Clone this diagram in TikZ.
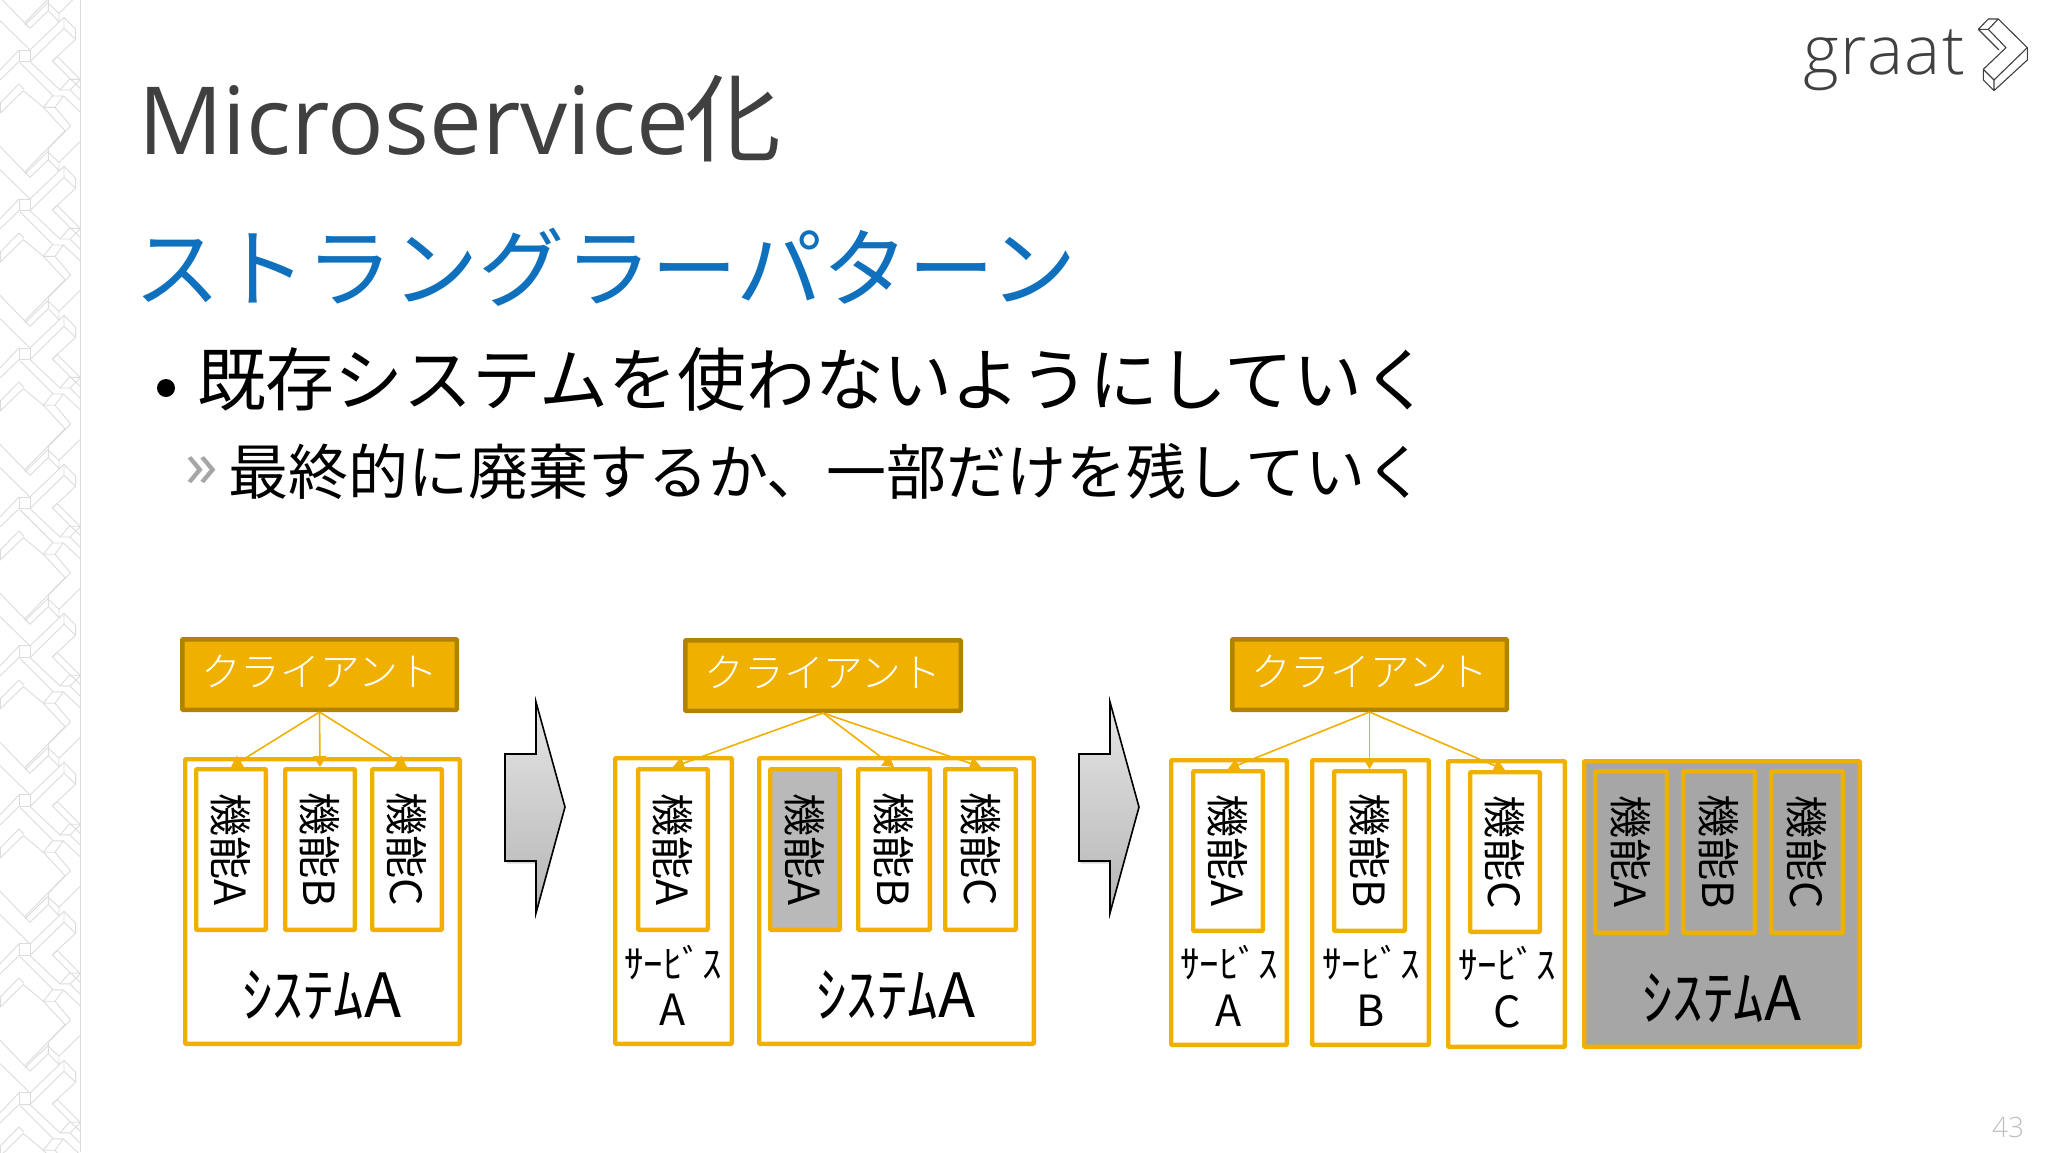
\documentclass[tikz,border=0pt]{standalone}
\usepackage{graphicx}
\usepackage{fontspec}
\setmainfont{Open Sans}
\newfontfamily\jp{Noto Sans CJK JP}
\newfontfamily\jpl{Noto Sans CJK JP}[UprightFont=* Light]
\newfontfamily\lat{Open Sans}[UprightFont=* Light]
\newfontfamily\latr{Open Sans}
\usetikzlibrary{arrows.meta}
\definecolor{amber}{HTML}{F0B000}
\definecolor{amberdk}{HTML}{B28300}
\definecolor{titlegray}{HTML}{404040}
\definecolor{subblue}{HTML}{0F70BD}
\definecolor{patgray}{HTML}{DCDCDC}
\definecolor{graya}{HTML}{B9B9B9}
\definecolor{grayb}{HTML}{A6A6A6}
\newcommand\fs[1]{\fontsize{#1pt}{#1pt}\selectfont}
\newcommand\rtxt[1]{\rotatebox{-90}{\raisebox{2.5pt}{\jp\fs{43}#1}}}
\tikzset{
  x=1pt,y=-1pt,
  every node/.style={inner sep=0pt,outer sep=0pt},
  amberbox/.style={draw=amber,line width=4.3pt,fill=white,rounded corners=0.8pt},
  funcbox/.style={amberbox,text=black},
  graybox/.style={amberbox,fill=graya,text=black},
  grayfunc/.style={amberbox,fill=grayb,text=black},
  sysgray/.style={amberbox,fill=grayb},
  clientbox/.style={draw=amberdk,line width=4.5pt,fill=amber,text=white,rounded corners=0.8pt},
  link/.style={draw=amber,line width=1.6pt,-{Stealth[length=11pt,width=13pt,inset=0pt]}},
  sysl/.style={text=black,font={\jp\fs{61}}},
  svcl/.style={text=black,font={\jp\fs{39}},align=center},
  svcm/.style={text=black,font={\jp\fs{43}},align=center},
  bigarrow/.style={draw=black,line width=1.6pt,top color=black!10,bottom color=black!29},
  arrowshade/.style={fill=black,opacity=.14,draw=none},
  pat/.style={draw=patgray,line width=0.9pt,line join=round},
  logol/.style={draw=titlegray,line width=1.1pt,line join=round},
}
\newcommand\bx[7]{\node[#2,minimum width={#5-#3-4.3},minimum height={#6-#4-4.3}] (#1) at ({(#3+#5)/2},{(#4+#6)/2}) {#7};}
\newcommand\clientb[5]{\node[clientbox,minimum width={#4-#2-4.5},minimum height={#5-#3-4.5}] (#1) at ({(#2+#4)/2},{(#3+#5)/2}) {\raisebox{7pt}{\jpl\fs{39.7}クライアント}};}
\newcommand\bigarr[3]{% name, x of left, unused
  \foreach \s in {1,2.5}{\fill[arrowshade] ({#2+\s*.6},{754+\s}) -- ({#2+31},{754+\s}) -- ({#2+31},{702+\s}) -- ({#2+60},{807+\s}) -- ({#2+31},{913+\s}) -- ({#2+31},{861+\s}) -- ({#2+\s*.6},{861+\s}) -- cycle;}
  \draw[bigarrow] (#2,754) -- ({#2+31},754) -- ({#2+31},702) -- ({#2+60},807) -- ({#2+31},913) -- ({#2+31},861) -- (#2,861) -- cycle;}
\begin{document}
\begin{tikzpicture}
\useasboundingbox (0,0) rectangle (2048,1152);
\fill[white] (0,0) rectangle (2048,1152);
% left strip pattern
\begin{scope}
\clip (0,0) rectangle (80,1152);
\foreach \k in {-1,0,...,8}{
\begin{scope}[x=0.3333pt,y=-0.3333pt,shift={(0,447*\k)}]
\draw[pat] (0,-8) -- (22,15) -- (90,85) -- (145,32) -- (145,-2);
\draw[pat] (75,75) -- (143,8) -- (177,40) -- (177,65) -- (145,32);
\draw[pat] (0,62) -- (90,150);
\draw[pat] (57,150) rectangle (90,185);
\draw[pat] (0,210) -- (57,150);
\draw[pat] (90,150) -- (192,52) -- (227,88) -- (227,118) -- (157,183) -- (240,265);
\draw[pat] (90,185) -- (192,85) -- (192,52);
\draw[pat] (192,85) -- (227,118);
\draw[pat] (57,185) -- (0,240);
\draw[pat] (60,188) -- (160,288);
\draw[pat] (130,322) -- (157,288) -- (190,288) -- (165,322) -- cycle;
\draw[pat] (130,322) -- (195,392) -- (75,515);
\draw[pat] (165,322) -- (212,378) -- (145,445);
\draw[pat] (157,183) -- (172,170) -- (240,238);
\draw[pat] (180,270) -- (208,238) -- (240,238);
\draw[pat] (180,270) -- (210,270) -- (240,240);
\draw[pat] (190,288) -- (240,335);
\draw[pat] (210,270) -- (240,300);
\draw[pat] (90,185) -- (180,270);
\draw[pat] (57,252) -- (0,310);
\draw[pat] (57,252) -- (72,268);
\draw[pat] (70,272) -- (0,340);
\draw[pat] (0,305) -- (0,340);
\draw[pat] (70,272) -- (130,322);
\draw[pat] (177,40) -- (240,-22);
\end{scope}}
\end{scope}
\draw[patgray,line width=1pt] (80.5,0) -- (80.5,1152);
% headings
\node[anchor=base west,text=titlegray] (title) at (138,154) {\latr\fs{94}Microservice\kern-3pt\jp\fs{96}化};
\node[anchor=base west,text=subblue] (sub) at (134,300) {\jp\fs{86.2}ストラングラーパターン};
\node[anchor=base west] (b1) at (197,405) {\jp\fs{68.9}既存システムを使わないようにしていく};
\node[anchor=base west] (b2) at (228,494) {\jp\fs{60}最終的に廃棄するか、一部だけを残していく};
\fill[black] (166,388) circle (9);
\node[anchor=center,text=black!35] (b2mark) at (202,472) {\latr\fs{66}»};
% logo
\node[anchor=base west,text=titlegray] (logot) at (1803,74) {\lat\fs{68}g\kern1.5pt r\kern0.5pt a\kern1.5pt a\kern1.5pt t};
\begin{scope}[shift={(1700,0)},x=0.3333pt,y=-0.3333pt]
\draw[logol] (835,88) -- (865,57) -- (895,57) -- (865,88) -- cycle;
\draw[logol] (895,57) -- (982,143) -- (982,180) -- (882,272) -- (850,240) -- (850,208) -- (882,240) -- (882,272);
\draw[logol] (882,240) -- (982,143);
\draw[logol] (850,208) -- (918,143) -- (865,88);
\draw[logol] (835,88) -- (897,150);
\end{scope}
% panel 1
\clientb{c1}{180}{637}{459}{712}
\bx{s1}{amberbox}{183}{757}{462}{1046}{}
\coordinate (c1s) at (319.5,712);
\coordinate (f1at) at (231,767);
\coordinate (f1bt) at (320,767);
\coordinate (f1ct) at (407,767);
\draw[link] (c1s) -- (f1at);
\draw[link] (c1s) -- (f1bt);
\draw[link] (c1s) -- (f1ct);
\bx{f1a}{funcbox}{194}{767}{268}{932}{\rtxt{機能A}}
\bx{f1b}{funcbox}{283}{767}{357}{932}{\rtxt{機能B}}
\bx{f1c}{funcbox}{370}{767}{444}{932}{\rtxt{機能C}}
\node[sysl] (t1) at (322,995) {ｼｽﾃﾑA};
\bigarr{a1}{505}{}
% panel 2
\clientb{c2}{683}{638}{963}{713}
\bx{s2a}{amberbox}{613}{756}{734}{1046}{}
\bx{s2}{amberbox}{757}{756}{1036}{1046}{}
\coordinate (c2s) at (823,713);
\coordinate (f2st) at (673,767);
\coordinate (f2bt) at (894,767);
\coordinate (f2ct) at (981,767);
\draw[link] (c2s) -- (f2st);
\draw[link] (c2s) -- (f2bt);
\draw[link] (c2s) -- (f2ct);
\bx{f2s}{funcbox}{636}{767}{710}{932}{\rtxt{機能A}}
\bx{f2a}{graybox}{768}{767}{842}{932}{\rtxt{機能A}}
\bx{f2b}{funcbox}{856}{767}{932}{932}{\rtxt{機能B}}
\bx{f2c}{funcbox}{943}{767}{1018}{932}{\rtxt{機能C}}
\node[svcl] (t2s) at (673,963) {ｻｰﾋﾞｽ};
\node[svcm] (t2a) at (673,1010) {A};
\node[sysl] (t2) at (896,995) {ｼｽﾃﾑA};
\bigarr{a2}{1079}{}
% panel 3
\clientb{c3}{1230}{637}{1509}{712}
\bx{s3a}{amberbox}{1169}{758}{1289}{1047}{}
\bx{s3b}{amberbox}{1310}{758}{1431}{1047}{}
\bx{s3c}{amberbox}{1446}{759}{1567}{1049}{}
\coordinate (c3s) at (1369.5,712);
\coordinate (f3at) at (1228,769);
\coordinate (f3bt) at (1369.5,769);
\coordinate (f3ct) at (1505,770);
\draw[link] (c3s) -- (f3at);
\draw[link] (c3s) -- (f3bt);
\draw[link] (c3s) -- (f3ct);
\bx{f3a}{funcbox}{1191}{769}{1265}{933}{\rtxt{機能A}}
\bx{f3b}{funcbox}{1332}{769}{1407}{933}{\rtxt{機能B}}
\bx{f3c}{funcbox}{1468}{770}{1542}{934}{\rtxt{機能C}}
\node[svcl] (t3as) at (1229,963) {ｻｰﾋﾞｽ};
\node[svcm] (t3a) at (1229,1011) {A};
\node[svcl] (t3bs) at (1371,963) {ｻｰﾋﾞｽ};
\node[svcm] (t3b) at (1371,1011) {B};
\node[svcl] (t3cs) at (1507,964) {ｻｰﾋﾞｽ};
\node[svcm] (t3c) at (1507,1012) {C};
\bx{s4}{sysgray}{1582}{759}{1862}{1049}{}
\bx{f4a}{grayfunc}{1593}{769}{1669}{935}{\rtxt{機能A}}
\bx{f4b}{grayfunc}{1681}{769}{1757}{935}{\rtxt{機能B}}
\bx{f4c}{grayfunc}{1769}{769}{1845}{935}{\rtxt{機能C}}
\node[sysl] (t4) at (1722,998) {ｼｽﾃﾑA};
\node[anchor=base east,text=black!25] (pg) at (2024,1137) {\lat\fs{28}43};
\end{tikzpicture}
\end{document}
